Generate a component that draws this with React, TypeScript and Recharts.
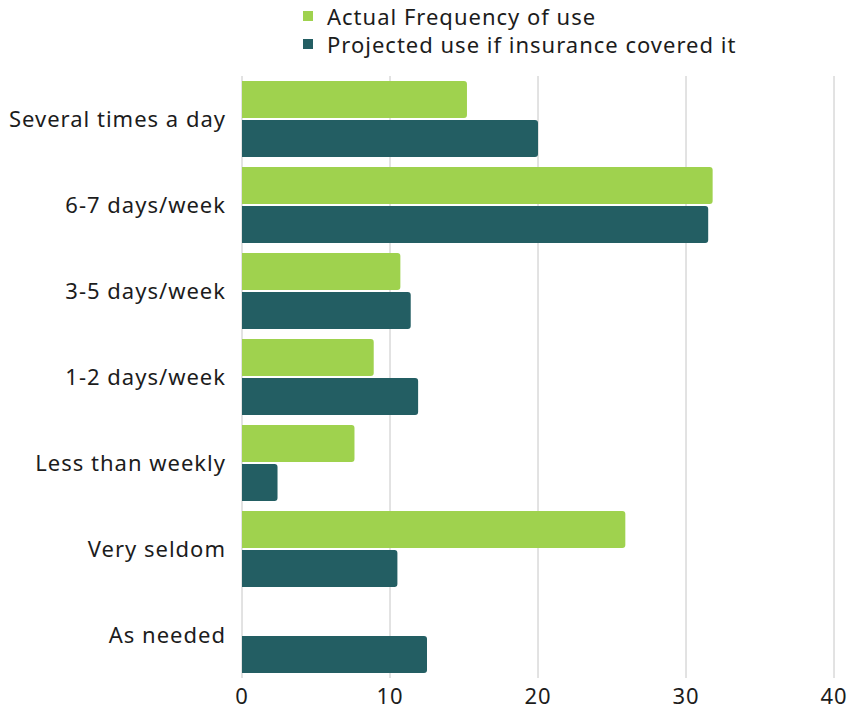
import { BarChart, Bar, XAxis, YAxis, CartesianGrid, Legend } from "recharts"

const categories = [
  "Several times a day",
  "6-7 days/week",
  "3-5 days/week",
  "1-2 days/week",
  "Less than weekly",
  "Very seldom",
  "As needed",
]
const actualUse = [15.2, 31.8, 10.7, 8.9, 7.6, 25.9, 0]
const projectedUse = [20.0, 31.5, 11.4, 11.9, 2.4, 10.5, 12.5]
const xTicks = [0, 10, 20, 30, 40]

const SERIES = [
  { key: "actual", label: "Actual Frequency of use", color: "#9fd24e" },
  { key: "projected", label: "Projected use if insurance covered it", color: "#235e63" },
]

const data = categories.map((name, i) => ({
  name,
  actual: actualUse[i],
  projected: projectedUse[i],
}))

const FONT = "'Noto Sans', 'Open Sans', sans-serif"
const TEXT = "#1c1c1c"

function LegendBox() {
  return (
    <div style={{ fontFamily: FONT, fontSize: 22, letterSpacing: 1, color: TEXT }}>
      {SERIES.map((s) => (
        <div key={s.key} style={{ display: "flex", alignItems: "center", height: 28 }}>
          <span style={{ width: 10, height: 10, background: s.color, marginRight: 14 }} />
          {s.label}
        </div>
      ))}
    </div>
  )
}

export default function App() {
  const tickStyle = { fontFamily: FONT, fontSize: 22, letterSpacing: 1, fill: TEXT }
  return (
    <div style={{ position: "absolute", left: 0, top: 0 }}>
      <BarChart
        width={849}
        height={710}
        data={data}
        layout="vertical"
        barCategoryGap={5}
        barGap={2}
        margin={{ top: 76, right: 15, left: 0, bottom: 0 }}
      >
        <CartesianGrid horizontal={false} stroke="#c6c6c6" />
        <XAxis
          type="number"
          domain={[0, 40]}
          ticks={xTicks}
          height={32}
          axisLine={false}
          tickLine={false}
          tickMargin={4}
          tick={tickStyle}
        />
        <YAxis
          type="category"
          dataKey="name"
          width={242}
          axisLine={false}
          tickLine={false}
          tickMargin={10}
          tick={tickStyle}
        />
        <Legend
          verticalAlign="middle"
          content={() => <LegendBox />}
          wrapperStyle={{ position: "absolute", top: 2, left: 303, width: 540 }}
        />
        {SERIES.map((s) => (
          <Bar
            key={s.key}
            dataKey={s.key}
            name={s.label}
            fill={s.color}
            radius={[0, 3, 3, 0]}
            isAnimationActive={false}
          />
        ))}
      </BarChart>
    </div>
  )
}
